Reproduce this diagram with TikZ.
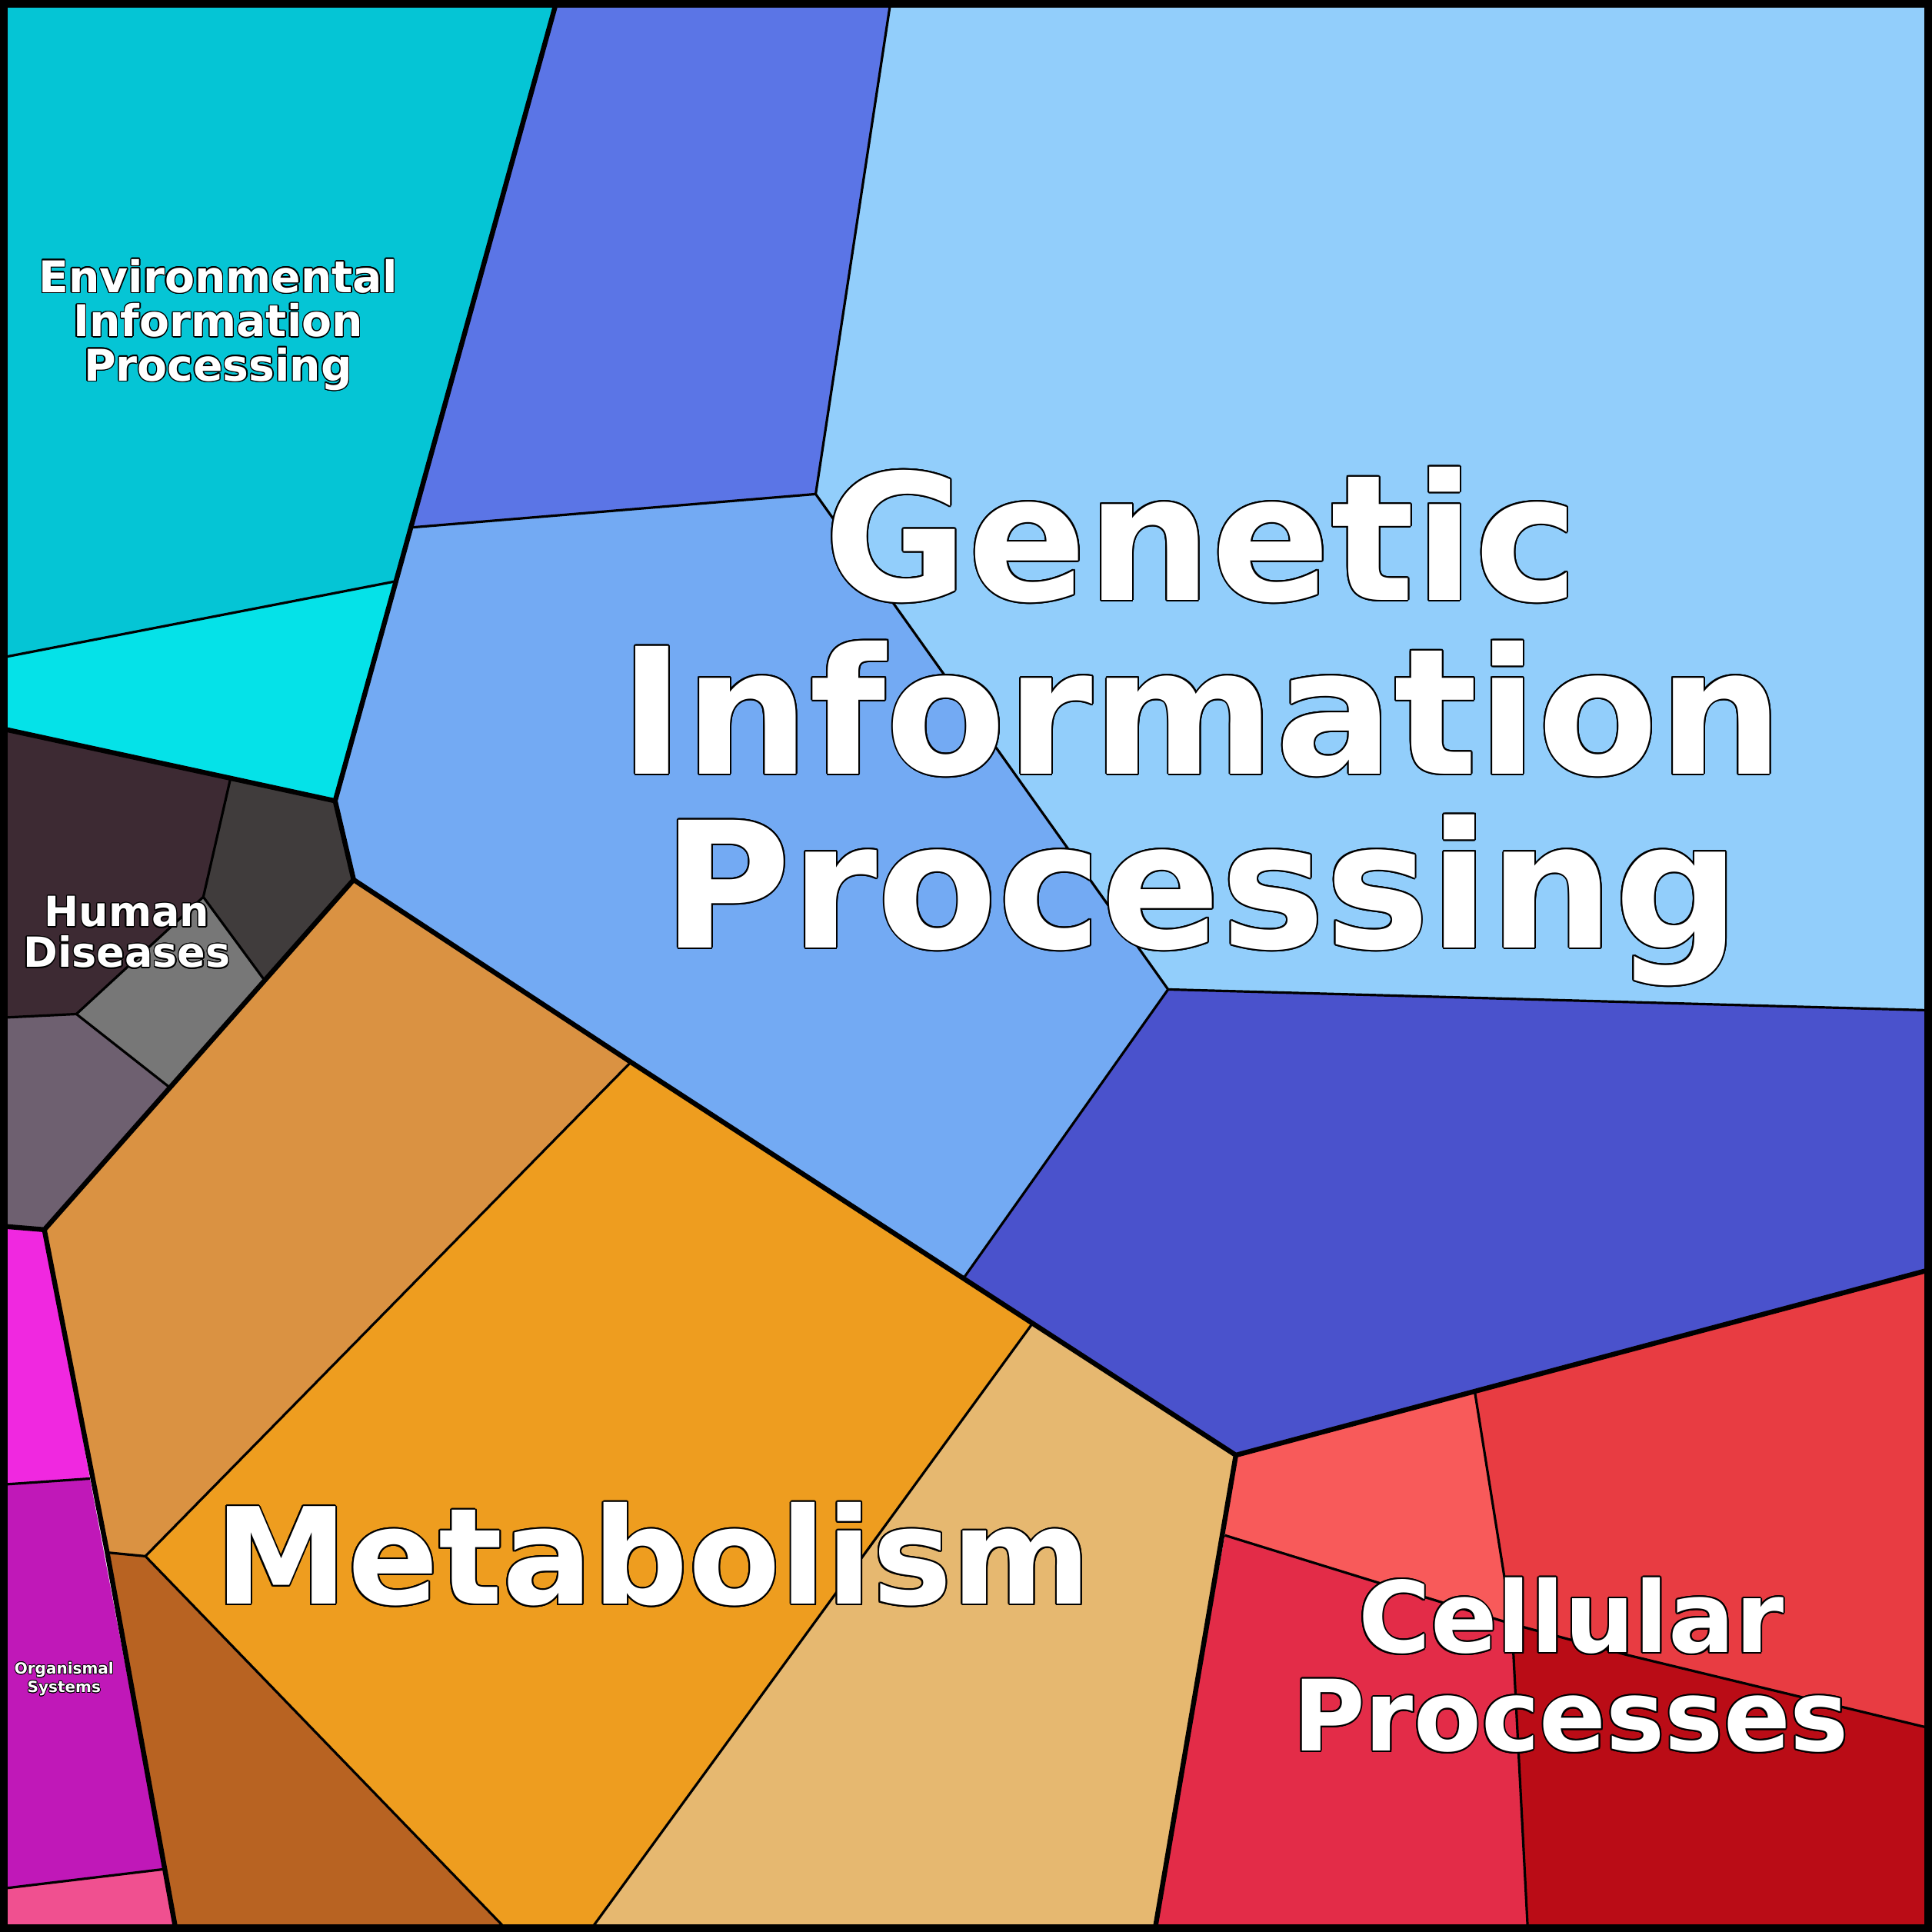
\documentclass[tikz,border=0pt]{standalone}
\usepackage{fontspec}
\setmainfont{DejaVu Sans}
\usepackage{contour}
\contourlength{0.5pt}
\begin{document}
\begin{tikzpicture}[x=0.4005pt,y=-0.4005pt,
 thin line/.style={line width=0.8pt,line join=round},
 thick line/.style={line width=1.6pt,line join=round},
 lbl/.style={text=white,align=center}]
\fill[white] (0,0) rectangle (1568,1568);
\useasboundingbox (0,0) rectangle (1568,1568);
% key points
\coordinate (TL) at (0,0); \coordinate (TR) at (1568,0);
\coordinate (BR) at (1568,1568); \coordinate (BL) at (0,1568);
\coordinate (pA) at (723,0); \coordinate (pB) at (452,0);
\coordinate (pC) at (662,401); \coordinate (pD) at (335,428);
\coordinate (pE) at (320,472); \coordinate (pF) at (0,534);
\coordinate (pG) at (272,650); \coordinate (pH) at (0,591);
\coordinate (pI) at (287,714); \coordinate (pJ) at (948,803);
\coordinate (pK) at (1568,820); \coordinate (pL) at (783,1036);
\coordinate (pM) at (512,862); \coordinate (pN) at (838,1074);
\coordinate (pO) at (1003,1181); \coordinate (pP) at (1568,1030);
\coordinate (pQ) at (1197,1130); \coordinate (pR) at (994,1246);
\coordinate (pT) at (1227,1318); \coordinate (pU) at (1320,1343);
\coordinate (pV) at (1568,1403); \coordinate (pW) at (1240,1568);
\coordinate (pX) at (937,1568); \coordinate (pY) at (478,1568);
\coordinate (pZ) at (413,1568); \coordinate (qA) at (143,1568);
\coordinate (qB) at (87,1260); \coordinate (qC) at (118,1263);
\coordinate (qD) at (36,998); \coordinate (qL) at (0,995);
\coordinate (qE) at (73,1200); \coordinate (qF) at (0,1205);
\coordinate (qG) at (133,1517); \coordinate (qH) at (0,1533);
\coordinate (qI) at (187,632); \coordinate (qJ) at (165,728);
\coordinate (qK) at (215,796); \coordinate (qM) at (62,823);
\coordinate (qN) at (0,826); \coordinate (qO) at (137,882);
% regions
\fill[fill={rgb,255:red,5;green,197;blue,213}] (TL)--(pB)--(pE)--(pF)--cycle;
\fill[fill={rgb,255:red,5;green,226;blue,232}] (pF)--(pE)--(pG)--(pH)--cycle;
\fill[fill={rgb,255:red,91;green,117;blue,230}] (pB)--(pA)--(pC)--(pD)--cycle;
\fill[fill={rgb,255:red,146;green,206;blue,251}] (pA)--(TR)--(pK)--(pJ)--(pC)--cycle;
\fill[fill={rgb,255:red,115;green,170;blue,243}] (pD)--(pC)--(pJ)--(pL)--(pM)--(pI)--(pG)--cycle;
\fill[fill={rgb,255:red,74;green,82;blue,204}] (pJ)--(pK)--(pP)--(pO)--(pN)--(pL)--cycle;
\fill[fill={rgb,255:red,248;green,90;blue,90}] (pQ)--(pO)--(pR)--(pT)--cycle;
\fill[fill={rgb,255:red,232;green,60;blue,66}] (pQ)--(pP)--(pV)--(pU)--(pT)--cycle;
\fill[fill={rgb,255:red,227;green,44;blue,72}] (pR)--(pT)--(pW)--(pX)--cycle;
\fill[fill={rgb,255:red,186;green,12;blue,22}] (pT)--(pU)--(pV)--(BR)--(pW)--cycle;
\fill[fill={rgb,255:red,218;green,146;blue,66}] (pI)--(pM)--(qC)--(qB)--(qD)--cycle;
\fill[fill={rgb,255:red,238;green,157;blue,31}] (pM)--(pN)--(pY)--(pZ)--(qC)--cycle;
\fill[fill={rgb,255:red,230;green,184;blue,112}] (pN)--(pO)--(pX)--(pY)--cycle;
\fill[fill={rgb,255:red,184;green,99;blue,34}] (qC)--(pZ)--(qA)--(qB)--cycle;
\fill[fill={rgb,255:red,240;green,40;blue,224}] (qL)--(qD)--(qE)--(qF)--cycle;
\fill[fill={rgb,255:red,192;green,24;blue,184}] (qF)--(qE)--(qG)--(qH)--cycle;
\fill[fill={rgb,255:red,240;green,80;blue,144}] (qH)--(qG)--(qA)--(BL)--cycle;
\fill[fill={rgb,255:red,61;green,42;blue,51}] (pH)--(qI)--(qJ)--(qM)--(qN)--cycle;
\fill[fill={rgb,255:red,64;green,60;blue,60}] (qI)--(pG)--(pI)--(qK)--(qJ)--cycle;
\fill[fill={rgb,255:red,119;green,119;blue,119}] (qJ)--(qK)--(qO)--(qM)--cycle;
\fill[fill={rgb,255:red,110;green,96;blue,112}] (qN)--(qM)--(qO)--(qD)--(qL)--cycle;
% thin borders
\draw[thin line] (pF)--(pE) (pD)--(pC)--(pA) (pC)--(pJ)--(pK) (pJ)--(pL) (pQ)--(pT)--(pW)
 (pR)--(pT)--(pU)--(pV) (pM)--(qC)--(qB) (qC)--(pZ) (pN)--(pY)
 (qF)--(qE) (qH)--(qG) (qI)--(qJ)--(qK) (qJ)--(qM)--(qN) (qM)--(qO);
% thick borders
\draw[thick line] (pB)--(pG)--(pI)--(qD)--(qB)--(qA) (pH)--(pG) (pI)--(pM)--(pN)--(pO)--(pP)
 (pO)--(pX) (qD)--(qL);
\draw[line width=2.4pt] (3,3) rectangle (1565,1565);
% labels
\node[lbl,font=\bfseries\fontsize{57}{56.5}\selectfont] (gip) at (975,590) {\contour{black}{Genetic}\\\contour{black}{Information}\\\contour{black}{Processing}};
\node[lbl,font=\bfseries\fontsize{43.5}{43.5}\selectfont] (met) at (530,1262) {\contour{black}{Metabolism}};
\node[lbl,font=\bfseries\fontsize{32}{32}\selectfont] (cel) at (1275,1352) {\contour{black}{Cellular}\\\contour{black}{Processes}};
\node[lbl,font=\bfseries\fontsize{14.2}{14.4}\selectfont] (env) at (177,264) {\contourlength{0.35pt}\contour{black}{Environmental}\\\contourlength{0.35pt}\contour{black}{Information}\\\contourlength{0.35pt}\contour{black}{Processing}};
\node[lbl,font=\bfseries\fontsize{13.5}{13.2}\selectfont] (hum) at (103,757) {\contourlength{0.35pt}\contour{black}{Human}\\\contourlength{0.35pt}\contour{black}{Diseases}};
\node[lbl,font=\bfseries\fontsize{5}{4.8}\selectfont] (org) at (52,1363) {\contourlength{0.2pt}\contour{black}{Organismal}\\\contourlength{0.2pt}\contour{black}{Systems}};
\end{tikzpicture}
\end{document}
